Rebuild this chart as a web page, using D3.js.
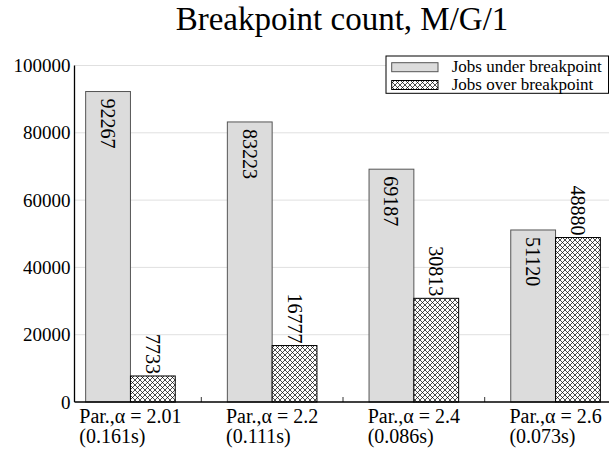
<!DOCTYPE html>
<html>
<head>
<meta charset="utf-8">
<script src="https://cdn.jsdelivr.net/npm/d3@7"></script>
<style>
  html, body { margin: 0; padding: 0; background: #fff; }
  svg { display: block; }
  svg text { font-family: "Liberation Serif", serif !important; fill: #000; }
</style>
</head>
<body>
<svg id="chart" width="609" height="450"></svg>
<script>
const categories = ["Par.,\u03B1 = 2.01", "Par.,\u03B1 = 2.2", "Par.,\u03B1 = 2.4", "Par.,\u03B1 = 2.6"];
const subLabels = ["(0.161s)", "(0.111s)", "(0.086s)", "(0.073s)"];
const underBreakpoint = [92267, 83223, 69187, 51120];
const overBreakpoint = [7733, 16777, 30813, 48880];
const yTicks = [0, 20000, 40000, 60000, 80000, 100000];
const seriesNames = ["Jobs under breakpoint", "Jobs over breakpoint"];
const title = "Breakpoint count, M/G/1";

const FONT = "'Liberation Serif', serif";
const svg = d3.select("#chart");
const W = 609, H = 450;

const defs = svg.append("defs");
const pat = defs.append("pattern")
  .attr("id", "xhatch").attr("patternUnits", "userSpaceOnUse")
  .attr("width", 5).attr("height", 5);
pat.append("rect").attr("width", 5).attr("height", 5).attr("fill", "#fff");
pat.append("path").attr("d", "M0,0 L5,5 M0,5 L5,0 M-1,1 L1,-1 M4,6 L6,4 M-1,4 L1,6 M4,-1 L6,1")
  .attr("stroke", "#000").attr("stroke-width", 0.7).attr("fill", "none");

const x = d3.scaleBand().domain(categories).range([59.6, 626.4]).paddingInner(0).paddingOuter(0);
const y = d3.scaleLinear().domain([0, 100000]).range([402, 65.5]);
const axisX = 74.5;
const barW = 44.8;

// gridlines
svg.append("g").selectAll("line").data(yTicks.filter(d => d > 0)).join("line")
  .attr("x1", axisX).attr("x2", W)
  .attr("y1", d => y(d)).attr("y2", d => y(d))
  .attr("stroke", "#e0e0e0").attr("stroke-width", 1);

// y axis
const yAxis = d3.axisLeft(y).tickValues(yTicks).tickSize(0).tickPadding(4).tickFormat(d3.format("d"));
const yg = svg.append("g").attr("transform", `translate(${axisX},0)`).call(yAxis)
  .attr("font-family", FONT).attr("font-size", 19);
yg.select(".domain").remove();
yg.selectAll("text").style("font-family", FONT).attr("font-size", 19).attr("fill", "#000");
svg.append("line").attr("x1", axisX).attr("x2", axisX).attr("y1", y(100000)).attr("y2", y(0))
  .attr("stroke", "#000").attr("stroke-width", 1.3);

const data = categories.map((c, i) => ({ c, u: underBreakpoint[i], o: overBreakpoint[i], s: subLabels[i] }));
const center = d => x(d.c) + x.bandwidth() / 2;

// under bars
svg.append("g").selectAll("rect").data(data).join("rect")
  .attr("x", d => center(d) - barW).attr("width", barW)
  .attr("y", d => y(d.u)).attr("height", d => y(0) - y(d.u))
  .attr("fill", "#dcdcdc").attr("stroke", "#555").attr("stroke-width", 1);
// over bars
svg.append("g").selectAll("rect").data(data).join("rect")
  .attr("x", d => center(d)).attr("width", barW)
  .attr("y", d => y(d.o)).attr("height", d => y(0) - y(d.o))
  .attr("fill", "url(#xhatch)").attr("stroke", "#000").attr("stroke-width", 1);

// value labels
svg.append("g").selectAll("text").data(data).join("text")
  .attr("transform", d => `translate(${center(d) - barW / 2},${y(d.u) + 7}) rotate(90)`)
  .attr("text-anchor", "start").attr("dominant-baseline", "central")
  .style("font-family", FONT).attr("font-size", 20).text(d => d.u);
svg.append("g").selectAll("text").data(data).join("text")
  .attr("transform", d => `translate(${center(d) + barW / 2},${y(d.o) - 2}) rotate(90)`)
  .attr("text-anchor", "end").attr("dominant-baseline", "central")
  .style("font-family", FONT).attr("font-size", 20).text(d => d.o);

// x axis
svg.append("line").attr("x1", axisX).attr("x2", W).attr("y1", y(0)).attr("y2", y(0))
  .attr("stroke", "#000").attr("stroke-width", 1.5);
// minor ticks at band boundaries
svg.append("g").selectAll("line").data(categories.slice(1)).join("line")
  .attr("x1", d => x(d)).attr("x2", d => x(d))
  .attr("y1", y(0)).attr("y2", y(0) - 5)
  .attr("stroke", "#000").attr("stroke-width", 0.8);

// category labels: left-aligned block centered on group center
const lab = svg.append("g").selectAll("text").data(data).join("text")
  .style("font-family", FONT).attr("font-size", 20);
lab.append("tspan").attr("class", "l1").attr("y", 422.5).text(d => d.c);
lab.append("tspan").attr("class", "l2").attr("y", 443).text(d => d.s);
lab.each(function(d) {
  const t = d3.select(this);
  const w = t.select(".l1").node().getComputedTextLength();
  const x0 = center(d) - w / 2;
  t.selectAll("tspan").attr("x", x0);
});

// title
svg.append("text").attr("x", 342).attr("y", 29.5).attr("text-anchor", "middle")
  .style("font-family", FONT).attr("font-size", 33).text(title);

// legend
const lg = svg.append("g");
lg.append("rect").attr("x", 386).attr("y", 56).attr("width", 222.5).attr("height", 37.3)
  .attr("fill", "#fff").attr("stroke", "#000").attr("stroke-width", 1);
const rows = [
  { name: seriesNames[0], fill: "#dcdcdc", stroke: "#555", cy: 67.2 },
  { name: seriesNames[1], fill: "url(#xhatch)", stroke: "#000", cy: 85 }
];
lg.selectAll("rect.sw").data(rows).join("rect").attr("class", "sw")
  .attr("x", 391.7).attr("width", 46.3).attr("y", d => d.cy - 4.5).attr("height", 9)
  .attr("fill", d => d.fill).attr("stroke", d => d.stroke).attr("stroke-width", 1);
lg.selectAll("text").data(rows).join("text")
  .attr("x", 451.7).attr("y", d => d.cy + 4.5).style("font-family", FONT)
  .attr("font-size", 17).text(d => d.name);
</script>
</body>
</html>
